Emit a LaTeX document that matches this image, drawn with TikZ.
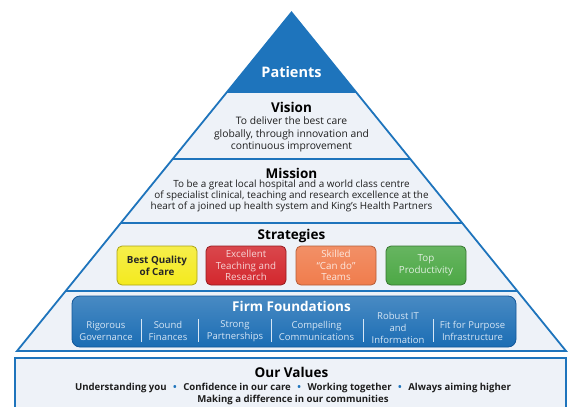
\documentclass[tikz,border=0pt]{standalone}
\usepackage{fontspec}
\setmainfont{Open Sans}

\definecolor{pyblue}{HTML}{1E74BC}
\definecolor{paleband}{HTML}{EEF2F8}
\definecolor{bodytext}{HTML}{1E1E1E}
\definecolor{ffblue}{HTML}{1B6DB4}
\definecolor{ffdark}{HTML}{14589A}
\definecolor{ffpale}{HTML}{D6E6F5}
\definecolor{stryellow}{HTML}{F4EA1E}
\definecolor{strred}{HTML}{D3272D}
\definecolor{strorange}{HTML}{F07C4C}
\definecolor{strgreen}{HTML}{4CA845}

\newcommand{\valuedot}{\hspace{6.5pt}{\color{pyblue}\textbullet}\hspace{6.5pt}}

\tikzset{
  sepline/.style={draw=pyblue, line width=1.5pt},
  heading/.style={font=\fontsize{13.5}{15}\selectfont\bfseries, text=black},
  bodytxt/.style={align=center, text=bodytext, inner sep=0pt},
  strategy/.style={rounded corners=5pt, minimum width=80pt, minimum height=39pt,
    inner sep=1pt, align=center, line width=0.8pt,
    font=\fontsize{9.8}{11.8}\selectfont},
  pillar/.style={align=center, text=ffpale, inner sep=0pt,
    font=\fontsize{9.5}{12}\selectfont},
  pillarbar/.style={draw=ffpale, line width=1pt},
}

\begin{document}
\begin{tikzpicture}[x=1pt, y=-1pt]
  \useasboundingbox (0,0) rectangle (568,407);

  % pyramid body and the patients tip
  \fill[paleband] (291.5,12.5) -- (566,351) -- (17,351) -- cycle;
  \fill[pyblue] (291.5,12.5) -- (356,92) -- (227,92) -- cycle;

  % band dividers
  \draw[sepline] (227,92) -- (356,92);
  \draw[sepline] (172.7,159) -- (410.3,159);
  \draw[sepline] (120.8,223) -- (462.2,223);
  \draw[sepline] (65.6,291) -- (517.4,291);
  \draw[draw=pyblue, line width=1.8pt, line join=miter]
    (291.5,12.5) -- (566,351) -- (17,351) -- cycle;

  \node[font=\fontsize{14.5}{16}\selectfont\bfseries, text=white] (patients) at (291.5,72) {Patients};

  % vision
  \node[heading] (vision) at (291.5,107) {Vision};
  \node[bodytxt, font=\fontsize{10.3}{12.4}\selectfont] (visiontxt) at (291.5,134.5)
    {To deliver the best care\\globally, through innovation and\\continuous improvement};

  % mission
  \node[heading] (mission) at (291.5,173) {Mission};
  \node[bodytxt, font=\fontsize{9.9}{11}\selectfont] (missiontxt) at (291.5,196)
    {To be a great local hospital and a world class centre\\
     of specialist clinical, teaching and research excellence at the\\
     heart of a joined up health system and King's Health Partners};

  % strategies
  \node[heading] (strategies) at (291.5,236) {Strategies};
  \node[strategy, top color=stryellow!80!white, bottom color=stryellow, draw=stryellow!70!black,
        text=black!85, font=\fontsize{9.8}{11.8}\selectfont\bfseries] (quality) at (157,265.5)
    {Best Quality\\of Care};
  \node[strategy, top color=strred!85!white, bottom color=strred, draw=strred!70!black,
        text=strred!20!white] (teaching) at (246,265.5)
    {Excellent\\Teaching and\\Research};
  \node[strategy, top color=strorange!85!white, bottom color=strorange, draw=strorange!75!black,
        text=strorange!18!white] (teams) at (336,265.5)
    {Skilled\\``Can do''\\Teams};
  \node[strategy, top color=strgreen!85!white, bottom color=strgreen, draw=strgreen!70!black,
        text=strgreen!18!white] (productivity) at (426,265.5)
    {Top\\Productivity};

  % firm foundations
  \node[rounded corners=8pt, top color=ffblue!80!white, bottom color=ffblue, draw=ffdark,
        line width=0.8pt, minimum width=444pt, minimum height=51pt] (foundations) at (294,321.5) {};
  \node[font=\fontsize{13.5}{15}\selectfont\bfseries, text=white] (fftitle) at (291.5,306) {Firm Foundations};
  \node[pillar] (governance) at (106,331) {Rigorous\\Governance};
  \node[pillar] (finances) at (168,331) {Sound\\Finances};
  \node[pillar] (partners) at (235,331) {Strong\\Partnerships};
  \node[pillar] (comms) at (316.5,331) {Compelling\\Communications};
  \node[pillar] (robustit) at (398,327.5) {Robust IT\\and\\Information};
  \node[pillar] (infra) at (472.5,331) {Fit for Purpose\\Infrastructure};
  \foreach \bx in {141,198,271,363,433}
    \draw[pillarbar] (\bx,319) -- (\bx,342);

  % values
  \draw[draw=pyblue, fill=paleband, line width=1.4pt] (15,358) rectangle (566,412);
  \node[heading] (values) at (291.5,372) {Our Values};
  \node[bodytxt, font=\fontsize{9.6}{12}\selectfont\bfseries] (valuestxt) at (293,394)
    {Understanding you\valuedot Confidence in our care\valuedot Working together\valuedot Always aiming higher\\
     Making a difference in our communities};
\end{tikzpicture}
\end{document}
